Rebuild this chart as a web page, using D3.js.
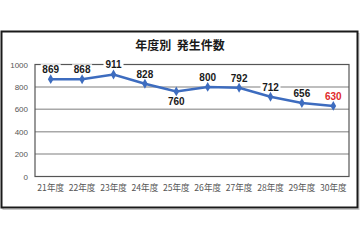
<!DOCTYPE html>
<html>
<head>
<meta charset="utf-8">
<script src="https://cdn.jsdelivr.net/npm/d3@7"></script>
<style>
	body { margin: 0; background: #fff; }
	svg { display: block; }
</style>
</head>
<body>
<div id="main"></div>
<script>
var WIDTH = 360, HEIGHT = 240;

// data
var years = ["21年度", "22年度", "23年度", "24年度", "25年度", "26年度", "27年度", "28年度", "29年度", "30年度"];
var counts = [869, 868, 911, 828, 760, 800, 792, 712, 656, 630];
var yTicks = [0, 200, 400, 600, 800, 1000];
var title = "年度別 発生件数";

var plot = { left: 35, right: 349, top: 64.5, bottom: 176.5 };
var jpFont = "'Noto Sans CJK JP', sans-serif";
var numFont = "'Liberation Sans', Arial, sans-serif";

var svg = d3.select("#main").append("svg")
	.attr("width", WIDTH)
	.attr("height", HEIGHT);

// outer frame (with faint shadow)
svg.append("rect")
	.attr("x", 2).attr("y", 32.5)
	.attr("width", 356).attr("height", 176)
	.attr("fill", "#fff")
	.attr("stroke", "#c8c8c8")
	.attr("stroke-width", 1)
	.attr("transform", "translate(1,1)");
svg.append("rect")
	.attr("x", 1.5).attr("y", 31.5)
	.attr("width", 356).attr("height", 176)
	.attr("fill", "#fff")
	.attr("stroke", "#1a1a1a")
	.attr("stroke-width", 2);

svg.append("text")
	.attr("x", 180).attr("y", 50)
	.attr("text-anchor", "middle")
	.attr("font-family", jpFont)
	.attr("font-weight", "bold")
	.attr("font-size", 12)
	.attr("fill", "#1a1a1a")
	.attr("xml:space", "preserve")
	.text(title.replace(" ", "  "));

var x = d3.scaleBand().domain(years).range([plot.left, plot.right]).padding(0);
var y = d3.scaleLinear().domain([0, 1000]).range([plot.bottom, plot.top]);

// gridlines
svg.append("g").selectAll("line")
	.data(yTicks.filter(function(d) { return d > 0 && d < 1000; }))
	.join("line")
		.attr("x1", plot.left).attr("x2", plot.right)
		.attr("y1", function(d) { return y(d); })
		.attr("y2", function(d) { return y(d); })
		.attr("stroke", "#a8a8a8")
		.attr("stroke-width", 1.5);

// plot frame
svg.append("rect")
	.attr("x", plot.left).attr("y", plot.top)
	.attr("width", plot.right - plot.left)
	.attr("height", plot.bottom - plot.top)
	.attr("fill", "none")
	.attr("stroke", "#555")
	.attr("stroke-width", 1.2);

// y axis labels
var yAxis = d3.axisLeft(y).tickValues(yTicks).tickFormat(d3.format("d")).tickSize(0).tickPadding(7);
var gy = svg.append("g")
	.attr("transform", "translate(" + plot.left + ",0)")
	.call(yAxis);
gy.select(".domain").remove();
gy.selectAll("text")
	.attr("font-family", numFont)
	.attr("font-size", 8)
	.attr("fill", "#555");

// x axis labels
var xAxis = d3.axisBottom(x).tickSize(0).tickPadding(8);
var gx = svg.append("g")
	.attr("transform", "translate(0," + plot.bottom + ")")
	.call(xAxis);
gx.select(".domain").remove();
gx.selectAll("text")
	.attr("font-family", jpFont)
	.attr("font-size", 8.6)
	.attr("fill", "#555");

var pts = years.map(function(d, i) {
	return { year: d, value: counts[i], cx: x(d) + x.bandwidth() / 2, cy: y(counts[i]) };
});

// data labels (white box behind text)
var labels = svg.append("g").selectAll("g")
	.data(pts)
	.join("g")
		.attr("transform", function(d, i) {
			var below = d.value === 760;
			return "translate(" + d.cx + "," + (below ? d.cy + 14 : d.cy - 6) + ")";
		});
labels.append("rect")
	.attr("x", -10).attr("y", -9)
	.attr("width", 20).attr("height", 10)
	.attr("fill", "#fff");
labels.append("text")
	.attr("text-anchor", "middle")
	.attr("font-family", numFont)
	.attr("font-weight", "bold")
	.attr("font-size", 10)
	.attr("fill", function(d, i) { return i === pts.length - 1 ? "#e02a2a" : "#1a1a1a"; })
	.text(function(d) { return d.value; });

// line + diamond markers
var line = d3.line().x(function(d) { return d.cx; }).y(function(d) { return d.cy; });
svg.append("path")
	.datum(pts)
	.attr("d", line)
	.attr("fill", "none")
	.attr("stroke", "#3d6cbf")
	.attr("stroke-width", 2.5);

svg.append("g").selectAll("path")
	.data(pts)
	.join("path")
		.attr("transform", function(d) { return "translate(" + d.cx + "," + d.cy + ")"; })
		.attr("d", d3.symbol().type(d3.symbolDiamond).size(28))
		.attr("fill", "#3d6cbf");
</script>
</body>
</html>
